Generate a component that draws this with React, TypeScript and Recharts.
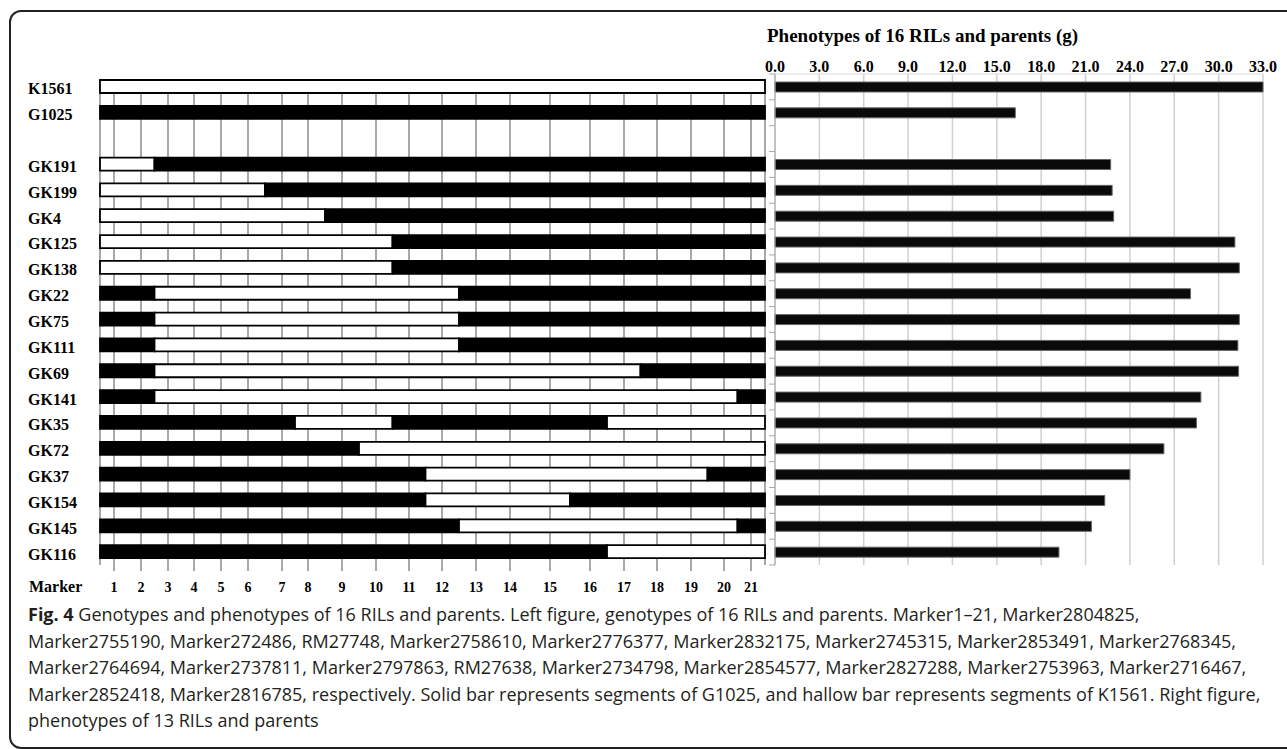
import React from 'react'
import { BarChart, Bar, XAxis, YAxis, CartesianGrid, Cell } from 'recharts'

// marker positions along the chromosome bar (0 = left end, 665 = right end)
const MARKER_POS = [14, 41, 68, 94, 121, 148, 182, 208, 242, 276, 309, 342, 376, 410, 450, 490, 524, 557, 591, 624, 651]
const CHROM_LEN = 665

const LINES = [
  'K1561', 'G1025', '', 'GK191', 'GK199', 'GK4', 'GK125', 'GK138', 'GK22', 'GK75',
  'GK111', 'GK69', 'GK141', 'GK35', 'GK72', 'GK37', 'GK154', 'GK145', 'GK116',
]

// genotype runs over markers 1-21: A = K1561 (hollow), B = G1025 (solid)
const GENO_RUNS: [string, number][][] = [
  [['A', 21]],
  [['B', 21]],
  [],
  [['A', 2], ['B', 19]],
  [['A', 6], ['B', 15]],
  [['A', 8], ['B', 13]],
  [['A', 10], ['B', 11]],
  [['A', 10], ['B', 11]],
  [['B', 2], ['A', 10], ['B', 9]],
  [['B', 2], ['A', 10], ['B', 9]],
  [['B', 2], ['A', 10], ['B', 9]],
  [['B', 2], ['A', 15], ['B', 4]],
  [['B', 2], ['A', 18], ['B', 1]],
  [['B', 7], ['A', 3], ['B', 6], ['A', 5]],
  [['B', 9], ['A', 12]],
  [['B', 11], ['A', 8], ['B', 2]],
  [['B', 11], ['A', 4], ['B', 6]],
  [['B', 12], ['A', 8], ['B', 1]],
  [['B', 16], ['A', 5]],
]

// phenotypes (g)
const PHENO = [33.0, 16.25, null, 22.7, 22.8, 22.9, 31.1, 31.4, 28.1, 31.4, 31.3, 31.35, 28.8, 28.5, 26.3, 24.0, 22.3, 21.4, 19.2]
const PHENO_TICKS = [0, 3, 6, 9, 12, 15, 18, 21, 24, 27, 30, 33]

const SERIF = '"Liberation Serif", "Times New Roman", serif'
const SEG_KEYS = ['s0', 's1', 's2', 's3']

function segmentsOf(runs: [string, number][]) {
  const segs: { g: string; len: number }[] = []
  let idx = 0
  let start = 0
  runs.forEach(([g, n], i) => {
    idx += n
    const end = i === runs.length - 1 ? CHROM_LEN : (MARKER_POS[idx - 1] + MARKER_POS[idx]) / 2
    segs.push({ g, len: end - start })
    start = end
  })
  return segs
}

const genoRows = LINES.map((name, i) => {
  const segs = segmentsOf(GENO_RUNS[i])
  const row: any = { name: name || ' ' }
  SEG_KEYS.forEach((k, j) => {
    row[k] = segs[j] ? segs[j].len : 0
    row['g' + j] = segs[j] ? segs[j].g : ''
  })
  return row
})

const phenoRows = LINES.map((name, i) => ({ name: name || ' ', value: PHENO[i] }))

function RowLabel(props: any) {
  return (
    <text x={28} y={props.y} dy={7.5} textAnchor="start" fontFamily={SERIF} fontWeight="bold" fontSize={16} fill="#000">
      {props.payload.value}
    </text>
  )
}

// excel-style tick marks sitting on the band edges instead of band centres
function EdgeTick(props: any) {
  const { x, y, payload, index } = props
  const half = payload.offset ?? 12.9
  return (
    <g stroke="#a8a8a8" strokeWidth={1}>
      <line x1={x - 6} x2={x} y1={y - half} y2={y - half} />
      {index === LINES.length - 1 && <line x1={x - 6} x2={x} y1={y + half} y2={y + half} />}
    </g>
  )
}

export default function App() {
  return (
    <div style={{ position: 'fixed', left: 0, top: 0, width: 1287, height: 749, background: '#fff', overflow: 'hidden' }}>
      <div style={{ position: 'absolute', left: 9, top: 10, width: 1320, height: 735, border: '2px solid #222', borderRadius: 12 }} />

      <div style={{ position: 'absolute', left: 0, top: 0 }}>
        <BarChart width={770} height={600} data={genoRows} layout="vertical" barCategoryGap={0}
          margin={{ top: 74, right: 5, left: 0, bottom: 5 }}>
          <CartesianGrid vertical horizontal={false} stroke="#7a7a7a" strokeWidth={1.3} y={80} height={485} />
          <XAxis type="number" domain={[0, CHROM_LEN]} ticks={MARKER_POS} interval={0} height={30}
            tickFormatter={(v: number) => String(MARKER_POS.indexOf(v) + 1)}
            axisLine={false} tickLine={{ stroke: '#7a7a7a', strokeWidth: 1.3 }} tickSize={6} tickMargin={11}
            tick={{ fontFamily: SERIF, fontWeight: 'bold', fontSize: 14, fill: '#000' }} />
          <YAxis type="category" dataKey="name" width={100} interval={0} axisLine={false} tickLine={false}
            tickSize={0} tick={<RowLabel />} />
          {SEG_KEYS.map((k, j) => (
            <Bar key={k} dataKey={k} stackId="geno" barSize={13} stroke="#000" strokeWidth={1.8} isAnimationActive={false}>
              {genoRows.map((r, i) => (
                <Cell key={i} fill={r['g' + j] === 'B' ? '#000' : '#fff'} />
              ))}
            </Bar>
          ))}
        </BarChart>
      </div>

      <div style={{ position: 'absolute', left: 700, top: 0 }}>
        <BarChart width={587} height={600} data={phenoRows} layout="vertical" barCategoryGap={0}
          margin={{ top: 44, right: 24, left: 0, bottom: 35 }}>
          <CartesianGrid vertical horizontal={false} stroke="#d0d0d0" strokeWidth={1.5} />
          <XAxis type="number" orientation="top" domain={[0, 33]} ticks={PHENO_TICKS} interval={0} height={30}
            tickFormatter={(v: number) => v.toFixed(1)} axisLine={{ stroke: '#d9d9d9' }} tickLine={false}
            tickSize={0} tickMargin={2}
            tick={{ fontFamily: SERIF, fontWeight: 'bold', fontSize: 16, fill: '#000' }} />
          <YAxis type="category" dataKey="name" width={75} interval={0} tickSize={0} tickMargin={0}
            axisLine={{ stroke: '#a8a8a8' }} tickLine={false} tick={<EdgeTick />} />
          <Bar dataKey="value" barSize={10} fill="#0a0a0a" stroke="#666" strokeWidth={1} isAnimationActive={false} />
        </BarChart>
      </div>

      <div style={{ position: 'absolute', left: 767, top: 25, fontFamily: SERIF, fontWeight: 'bold', fontSize: 19, color: '#000', whiteSpace: 'nowrap' }}>
        Phenotypes of 16 RILs and parents (g)
      </div>
      <div style={{ position: 'absolute', left: 29, top: 578, fontFamily: SERIF, fontWeight: 'bold', fontSize: 16, color: '#000' }}>
        Marker
      </div>

      <div style={{ position: 'absolute', left: 28, top: 601, fontFamily: '"Open Sans", sans-serif', fontSize: 18, lineHeight: '26.5px', color: '#231f20', whiteSpace: 'nowrap' }}>
        <div><b>Fig. 4</b> Genotypes and phenotypes of 16 RILs and parents. Left figure, genotypes of 16 RILs and parents. Marker1–21, Marker2804825,</div>
        <div>Marker2755190, Marker272486, RM27748, Marker2758610, Marker2776377, Marker2832175, Marker2745315, Marker2853491, Marker2768345,</div>
        <div>Marker2764694, Marker2737811, Marker2797863, RM27638, Marker2734798, Marker2854577, Marker2827288, Marker2753963, Marker2716467,</div>
        <div>Marker2852418, Marker2816785, respectively. Solid bar represents segments of G1025, and hallow bar represents segments of K1561. Right figure,</div>
        <div>phenotypes of 13 RILs and parents</div>
      </div>
    </div>
  )
}
